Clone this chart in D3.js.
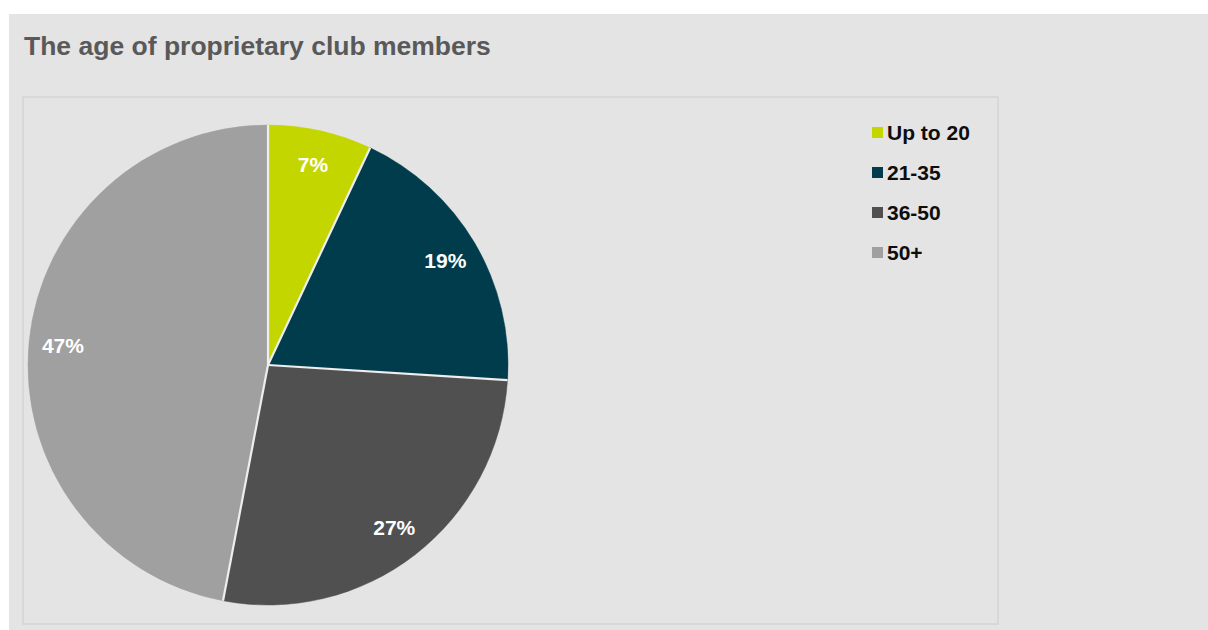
<!DOCTYPE html>
<html>
<head>
<meta charset="utf-8">
<script src="https://cdn.jsdelivr.net/npm/d3@7"></script>
<style>
  html, body { margin: 0; padding: 0; background: #ffffff; }
  svg { display: block; font-family: "Liberation Sans", Arial, sans-serif; }
</style>
</head>
<body>
<svg id="chart" width="1208" height="630"></svg>
<script>
// Age groups of proprietary club members (share of members, %)
const categories = ["Up to 20", "21-35", "36-50", "50+"];
const values = [7, 19, 27, 47];
const colors = ["#c4d600", "#003c4c", "#505050", "#a0a0a0"];
const chartTitle = "The age of proprietary club members";

const svg = d3.select("#chart");
const W = 1208, H = 630;

// Outer grey panel
svg.append("rect")
  .attr("x", 9).attr("y", 14)
  .attr("width", W - 9).attr("height", H - 14)
  .attr("fill", "#e4e4e4");

// Title
svg.append("text")
  .attr("x", 24).attr("y", 55)
  .attr("font-size", 26.5)
  .attr("font-weight", "bold")
  .attr("fill", "#595959")
  .text(chartTitle);

// Plot area frame
svg.append("rect")
  .attr("x", 23).attr("y", 97)
  .attr("width", 975).attr("height", 527)
  .attr("fill", "none")
  .attr("stroke", "#d8d8d8")
  .attr("stroke-width", 2);

// Pie
const cx = 268, cy = 365, radius = 240, labelRadius = 206;
const color = d3.scaleOrdinal().domain(categories).range(colors);

const pie = d3.pie()
  .sort(null)
  .value(d => d.value)
  .startAngle(0)
  .endAngle(2 * Math.PI);

const data = categories.map((c, i) => ({ category: c, value: values[i] }));
const arcs = pie(data);

const arc = d3.arc().innerRadius(0).outerRadius(radius);
const labelArc = d3.arc().innerRadius(labelRadius).outerRadius(labelRadius);

const g = svg.append("g").attr("transform", `translate(${cx},${cy})`);

g.selectAll("path.slice")
  .data(arcs)
  .join("path")
  .attr("class", "slice")
  .attr("d", arc)
  .attr("fill", d => color(d.data.category))
  .attr("stroke", d => color(d.data.category))
  .attr("stroke-width", 0.5);

// Light separators between slices (radial edges only)
g.selectAll("line.sep")
  .data(arcs)
  .join("line")
  .attr("class", "sep")
  .attr("x1", 0).attr("y1", 0)
  .attr("x2", d => radius * Math.sin(d.startAngle))
  .attr("y2", d => -radius * Math.cos(d.startAngle))
  .attr("stroke", "#eeeeee")
  .attr("stroke-width", 2.2);

g.selectAll("text.value")
  .data(arcs)
  .join("text")
  .attr("class", "value")
  .attr("transform", d => `translate(${labelArc.centroid(d)})`)
  .attr("text-anchor", "middle")
  .attr("dy", "0.36em")
  .attr("font-size", 21)
  .attr("font-weight", "bold")
  .attr("fill", "#ffffff")
  .text(d => d.data.value + "%");

// Legend
const legend = svg.append("g").attr("transform", "translate(872,140)");
const rows = legend.selectAll("g.row")
  .data(categories)
  .join("g")
  .attr("class", "row")
  .attr("transform", (d, i) => `translate(0,${i * 40})`);

rows.append("rect")
  .attr("x", 0).attr("y", -13)
  .attr("width", 11).attr("height", 11)
  .attr("fill", d => color(d));

rows.append("text")
  .attr("x", 15).attr("y", 0)
  .attr("font-size", 21)
  .attr("font-weight", "bold")
  .attr("fill", "#0d0d0d")
  .text(d => d);
</script>
</body>
</html>
